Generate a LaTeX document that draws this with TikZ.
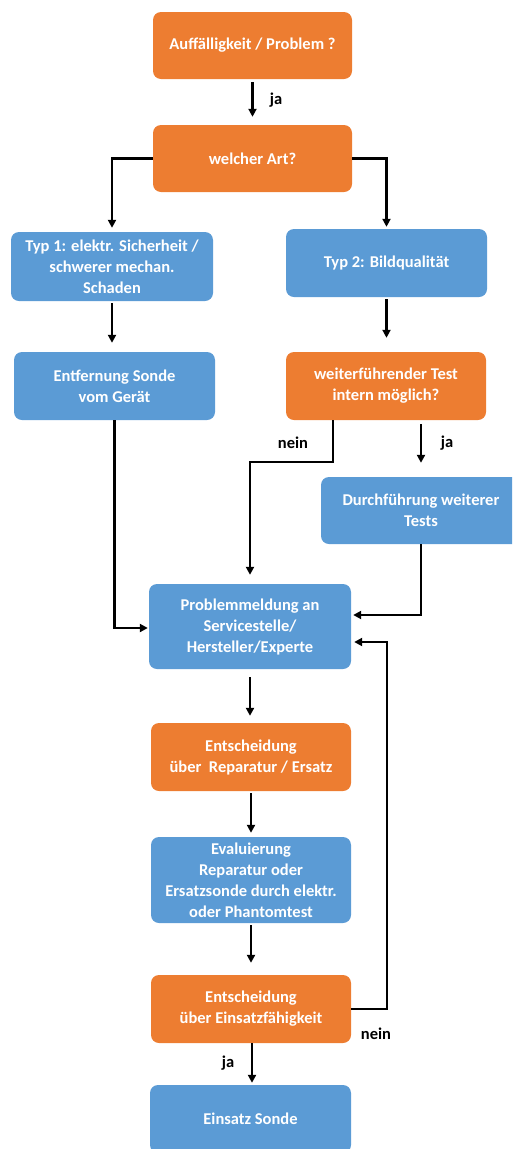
\documentclass[tikz,border=0pt]{standalone}
\usepackage{fontspec}
\setmainfont{Carlito}
\usetikzlibrary{arrows.meta}
\definecolor{offorange}{HTML}{ED7D31}
\definecolor{offblue}{HTML}{5B9BD5}
\begin{document}
\begin{tikzpicture}[x=1pt,y=-1pt,
  base/.style={rounded corners=8pt, text=white, align=center,
    font=\bfseries\fontsize{16.5}{21}\selectfont, inner sep=0pt},
  obox/.style={base, fill=offorange},
  bbox/.style={base, fill=offblue},
  arr/.style={line width=2.2pt, -{Triangle[length=8pt,width=8pt]}},
  lbl/.style={font=\bfseries\fontsize{16.5}{18}\selectfont, text=black}]
\useasboundingbox (0,0) rectangle (512,1149);
\clip (0,0) rectangle (512,1149);
\node[obox, minimum width=199pt, minimum height=67pt] (n1) at (252.5,45.5) {Auffälligkeit / Problem ?};
\node[obox, minimum width=199pt, minimum height=67pt] (n2) at (252.5,158.5) {welcher Art?};
\node[bbox, minimum width=202pt, minimum height=69pt] (n3) at (112,266.5) {Typ 1: elektr. Sicherheit /\\schwerer mechan.\\Schaden};
\node[bbox, minimum width=201pt, minimum height=68pt] (n4) at (386.5,263) {Typ 2: Bildqualität};
\node[bbox, minimum width=201pt, minimum height=68pt] (n5) at (114.5,386) {Entfernung Sonde\\vom Gerät};
\node[obox, minimum width=200pt, minimum height=68pt] (n6) at (386,386) {weiterführender Test\\intern möglich?};
\node[bbox, minimum width=200pt, minimum height=67pt] (n7) at (421,510.5) {Durchführung weiterer\\Tests};
\node[bbox, minimum width=202pt, minimum height=85pt] (n8) at (250,626.5) {Problemmeldung an\\Servicestelle/\\Hersteller/Experte};
\node[obox, minimum width=200pt, minimum height=68pt] (n9) at (251,757) {Entscheidung\\über\ \ Reparatur / Ersatz};
\node[bbox, minimum width=200pt, minimum height=86pt] (n10) at (251,880) {Evaluierung\\Reparatur oder\\Ersatzsonde durch elektr.\\oder Phantomtest};
\node[obox, minimum width=200pt, minimum height=68pt] (n11) at (251,1009) {Entscheidung\\über Einsatzfähigkeit};
\node[bbox, minimum width=201pt, minimum height=68pt] (n12) at (250.5,1119) {Einsatz Sonde};

\draw[arr, shorten <=3pt, shorten >=8pt] (n1.south) -- (n2.north);
\draw[arr, shorten >=4pt] (n2.west) -| (n3.north);
\draw[arr, shorten >=2pt] (n2.east) -| (n4.north);
\draw[arr, shorten <=2pt, shorten >=9pt] (n3.south) -- (n5.north -| n3.south);
\draw[arr, shorten <=2pt, shorten >=14pt] (n4.south) -- (n4.south |- n6.north);
\draw[arr, shorten >=1pt] (n5.south) |- ([yshift=-1.5pt]n8.west);
\coordinate (k1) at (333,462);
\draw[arr, shorten >=9pt] (n6.south -| k1) -- (k1) -| (n8.north);
\draw[arr, shorten <=4pt, shorten >=14pt] (n6.south -| n7.north) -- (n7.north);
\draw[arr, shorten >=2pt] (n7.south) |- ([yshift=11.5pt]n8.east);
\draw[arr, shorten <=8pt, shorten >=7pt] (n8.south) -- (n8.south |- n9.north);
\draw[arr, shorten <=2pt, shorten >=4pt] (n9.south) -- (n10.north);
\draw[arr, shorten <=2pt, shorten >=12pt] (n10.south) -- (n11.north);
\coordinate (k2) at (387,1009);
\draw[arr, shorten >=3pt] (n11.east) -- (k2) |- ([yshift=-15.5pt]n8.east);
\draw[arr, shorten >=2pt] ([xshift=1pt]n11.south) -- ([xshift=1pt]n11.south |- n12.north);

\node[lbl] (l1) at (276,100) {ja};
\node[lbl] (l2) at (293,443) {nein};
\node[lbl] (l3) at (447,443) {ja};
\node[lbl] (l4) at (376,1034) {nein};
\node[lbl] (l5) at (228,1063) {ja};
\end{tikzpicture}
\end{document}
